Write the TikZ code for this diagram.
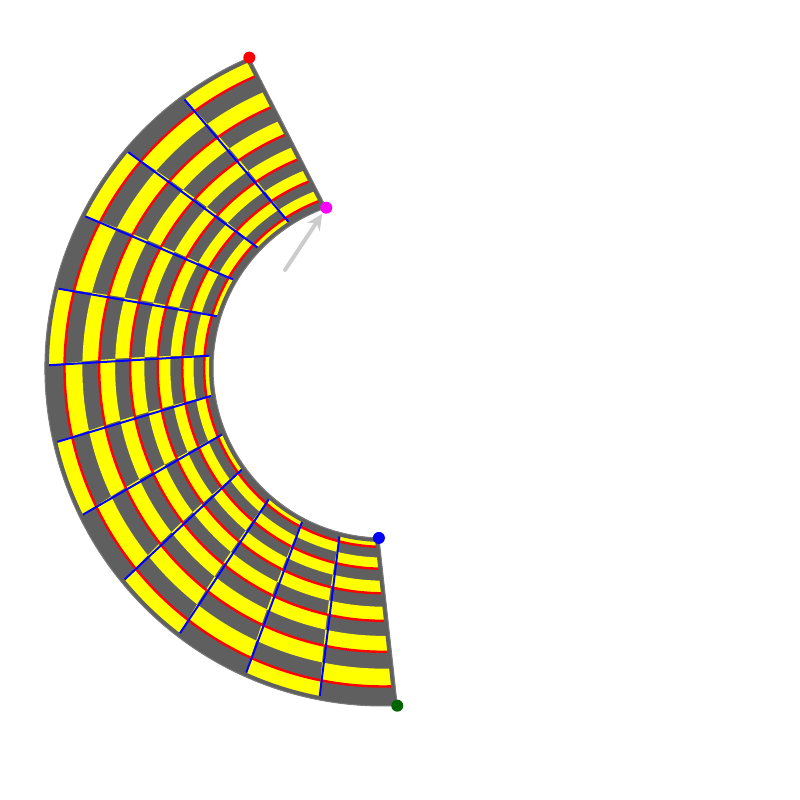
\documentclass[tikz,border=0pt]{standalone}
\usepackage{xcolor}
\definecolor{bandgray}{HTML}{5F5F5F}
\definecolor{edgegray}{HTML}{7A7A7A}
\definecolor{bandyellow}{HTML}{FFFF00}
\definecolor{darkgreen}{HTML}{006400}
\definecolor{pinkdot}{HTML}{FF00FF}
\usepackage{tikz}
\usetikzlibrary{arrows.meta}

\begin{document}
\begin{tikzpicture}[x=1pt, y=1pt, >=Stealth,
  cornerdot/.style={circle, inner sep=0pt, minimum size=12pt},
  redline/.style={draw=red, line width=2.4pt},
  gridline/.style={draw=blue, line width=2pt},
  hintarrow/.style={draw=black!20, line width=4pt, line cap=round,
    -{Stealth[length=16pt, width=15pt, fill=black!20]}}]
  \useasboundingbox (0,0) rectangle (800,800);
  \def\rin{170} \def\rout{338} \def\rlo{171.5} \def\rhi{335}
  \def\tzero{109.5} \def\tstep{13.26} \def\tw{3.8}

  \begin{scope}[shift={(383,432)}]
    \pgfmathsetmacro\tend{\tzero+12*\tstep}
    \pgfmathsetmacro\tzeroOut{\tzero+\tw}
    \pgfmathsetmacro\tendOut{\tend+\tw}
    \def\ringpath{(\tzeroOut:\rout)
      arc[start angle=\tzeroOut, end angle=\tendOut, radius=\rout]
      -- (\tend:\rin)
      arc[start angle=\tend, end angle=\tzero, radius=\rin] -- cycle}
    \fill[bandgray] \ringpath;

    \begin{scope}
      \clip \ringpath;
      \foreach \i in {0,...,11}{
        \pgfmathsetmacro\segA{\tzero+\i*\tstep}
        \pgfmathsetmacro\segB{\segA+\tstep}
        \foreach \k in {0,...,5}{
          \pgfmathsetmacro\rk{318.5*0.891^\k}
          \pgfmathsetmacro\bandIn{isodd(\i) ? max(\rk/1.0594,\rlo) : \rk}
          \pgfmathsetmacro\bandOut{isodd(\i) ? \rk : min(\rk*1.0594,\rhi)}
          \pgfmathsetmacro\aIn{\segA+\tw*(\bandIn-\rin)/(\rout-\rin)}
          \pgfmathsetmacro\bIn{\segB+\tw*(\bandIn-\rin)/(\rout-\rin)}
          \pgfmathsetmacro\aOut{\segA+\tw*(\bandOut-\rin)/(\rout-\rin)}
          \pgfmathsetmacro\bOut{\segB+\tw*(\bandOut-\rin)/(\rout-\rin)}
          \pgfmathsetmacro\aRed{\segA+\tw*(\rk-\rin)/(\rout-\rin)}
          \pgfmathsetmacro\bRed{\segB+\tw*(\rk-\rin)/(\rout-\rin)}
          \fill[bandyellow] (\aIn:\bandIn)
            arc[start angle=\aIn, end angle=\bIn, radius=\bandIn]
            -- (\bOut:\bandOut)
            arc[start angle=\bOut, end angle=\aOut, radius=\bandOut] -- cycle;
          \draw[redline] (\aRed:\rk) arc[start angle=\aRed, end angle=\bRed, radius=\rk];
        }
      }

      \foreach \i in {1,...,11}{
        \pgfmathsetmacro\lineIn{\tzero+\i*\tstep+\tw*(\rlo-\rin)/(\rout-\rin)}
        \pgfmathsetmacro\lineOut{\tzero+\i*\tstep+\tw*(\rhi-\rin)/(\rout-\rin)}
        \draw[gridline] (\lineIn:\rlo) -- (\lineOut:\rhi);
      }

      \draw[bandgray, line width=8pt] \ringpath;
    \end{scope}
    \draw[edgegray, line width=1pt] \ringpath;

    \node[cornerdot, fill=red] (topOuter) at (\tzeroOut:\rout) {};
    \node[cornerdot, fill=pinkdot] (topInner) at (\tzero:\rin) {};
    \node[cornerdot, fill=blue] (bottomInner) at (\tend:\rin) {};
    \node[cornerdot, fill=darkgreen] (bottomOuter) at (\tendOut:\rout) {};

    \coordinate (hintStart) at (-98,98);
    \draw[hintarrow, shorten >=1pt] (hintStart) -- (topInner);
  \end{scope}
\end{tikzpicture}
\end{document}
